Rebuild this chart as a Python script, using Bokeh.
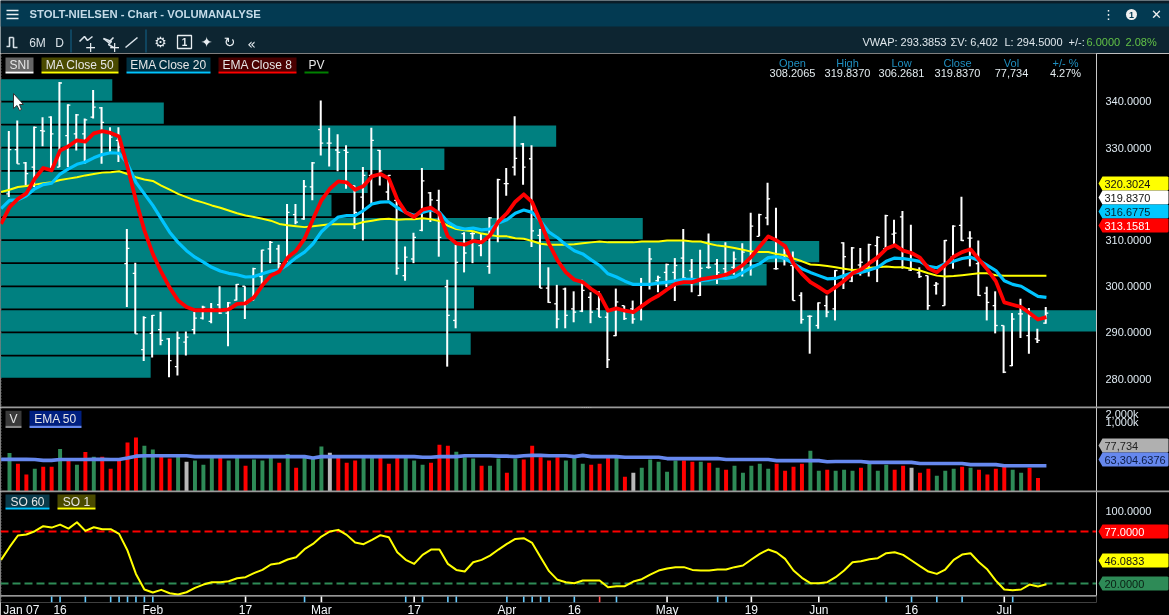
from bokeh.plotting import figure
from bokeh.layouts import column
from bokeh.models import Range1d, FixedTicker, NumeralTickFormatter, LinearAxis
from bokeh.core.properties import value
from bokeh.embed import file_html
from bokeh.resources import INLINE

# ---------------- data ----------------
opens = [320,329.6,326.7,325.8,333.7,336.6,325.8,332.6,333,333,336.6,338.6,333.4,331.6,
 304.9,302.8,286.3,289.8,290.6,288.6,282.6,287.9,290.6,293.1,292.4,296,294.2,297,300,297,302.1,308.1,308.1,305.4,315.5,314.6,
 321.5,333.9,331,329.5,329.4,321.8,319.3,324,329.4,320.4,318.6,302.3,305.9,312.1,320.2,318.6,
 299.9,292.6,311.4,311.4,308.8,304.3,313.5,322.2,325.8,330.8,327.6,311,299.6,296.2,299.4,295.1,294.6,297.6,295.1,293.3,289.3,295.8,295.1,295.5,300.5,301.2,303,303,306.1,303.4,298,304.1,304.8,
 303.8,304.1,304.5,303.8,310.8,314.8,303.8,306,304.5,298,293.5,291.5,295.8,295.1,309.4,301.1,304.6,303.4,308.8,308.1,311.3,315,303.5,302.9,302.3,300.2,295.8,306.3,313.2,310.4,304.9,298.5,295.8,291.5,282.8,294,289.3,288.6,292]
highs = [333.6,335.9,326.9,334.6,336.6,336.8,344.2,339.4,337.3,336.3,342.5,338.8,334.4,334.4,
 312.4,305.1,293.5,293.8,294.5,288.8,290.2,290.2,294.4,295.8,296.4,300,296.6,300.5,300,304,307.9,309.8,309,317.8,317.8,323,
 326.9,340.2,334.3,332.9,330.5,321.8,325.8,334.3,329.5,324,318.6,308.6,311.6,325.6,320.4,320.9,
 301.4,309,311.7,311.7,311.4,315,323.3,325.6,336.8,331,330.5,312.4,304.1,300.3,299.7,298.9,301.4,298.7,298.9,294.4,299.5,295.8,296.9,301.8,308.3,302.3,304.9,306.1,312.4,305.9,307.9,311.4,305.9,
 309.5,307.5,309.3,315.9,315.7,322.4,317,308.1,307.5,298.7,293.7,296.5,298,303.5,309.5,308.5,308.3,309.2,310.8,315.5,314.4,316.3,313.3,304.1,302.3,300.9,310,313.2,319.4,311.9,309.9,299.9,298.9,291.5,294.2,297.3,295.3,290.8,295.5]
lows = [319.3,326.5,321.8,321.5,330.3,325.4,325.8,325.8,329.4,326.5,336.3,326.5,329,326.9,
 295.5,289.7,283.8,284.6,287.2,280.3,280.7,285,289.6,292.8,292,294,287,296.9,292.9,296.9,300.5,305,303.8,305.2,313.4,314.4,
 318.6,328.3,325.9,324.9,321.1,312.4,309.9,317.8,321.8,318.6,302.5,301.2,305,311.9,313.9,306.4,
 282.6,290.9,303,305,306.5,302.7,309.5,319.6,324,322,308.5,299.6,296.4,290.9,290.9,292.2,294.4,292,293.3,282.3,289.2,292.7,291.9,292.6,299.3,298.7,299.8,296.8,301.6,298.7,297.9,303.8,300.5,
 302.1,302.5,302.1,302.3,310.8,313.2,303.6,304.5,296.9,291.9,285.4,290.8,293.3,292.6,299.4,300.9,302.3,302.1,300.9,307.9,308.5,303.8,303.3,301.8,294.9,298.2,295.8,303.8,309.8,304.3,297.9,292.6,289.8,281.2,282.7,288.8,285.4,287.7,291.9]
closes = [329.6,326.5,324.4,334.4,333.6,333,344,339.2,337.1,336,338.8,335.5,332.3,330.1,
 308.2,289.7,293.2,293.7,288.3,283.9,288.8,289,293.1,295.5,295.1,294.2,296.4,300.4,296.2,303.8,307.8,309.5,304.9,316,313.9,321.6,
 326.7,331,331,329,329,316,324,331.6,325,324,303.9,306.3,310.6,322.8,318.7,310.6,
 293.7,305.2,307.2,311.4,309.9,314.8,323.1,322.2,327.7,325.8,312,299.6,296.5,292.9,293.7,294.4,299.1,294.4,293.3,284.1,296.6,293,292.9,300.5,305.9,301.9,304.7,304.5,301.8,301.2,303.9,304.1,303,
 303,305.9,307.4,313,315.5,318.9,303.8,306,296.9,292.8,293.5,296.4,294.4,303.4,306.4,308.3,305.2,309,310.6,315.3,311.5,304.1,305.6,302.1,295.8,300.5,309.9,313,309.9,310.4,298,296.5,291.5,281.4,292.9,294,293.6,288.3,294.2]

# averages start one bar before the first visible bar
ema8 = [313.5,317.1,318.9,320.1,323.3,325.6,325.1,329.4,330.3,331.6,331.3,333.1,333.6,333.2,332.4,325.8,318.6,
 312.1,307,303.1,299.7,296.9,295.5,294.8,294.8,294.8,294.8,295,296.2,296.3,297.6,300.2,302.3,303.2,306.2,307.7,310.3,314.5,318.6,321.1,322.7,322.5,320.9,321.7,323.8,324.3,323.3,318.8,
 316,315,316.6,317,315.7,310.8,309.3,309,309.8,309.5,311,314,315.8,318.3,319.9,318.2,313.9,309.2,305.6,303,301.4,300.9,299.4,298.2,294.7,295.2,294.7,294.4,295.7,297,298,299.3,300.5,300.9,300.9,301.5,301.8,302.1,
 302.5,303.4,304.6,306.4,308.6,310.8,309.9,308.7,304.9,302.7,300.9,299.8,298.6,299.8,301.2,302.8,303.6,305,306.3,308.1,308.9,307.7,307.2,306.2,303.9,303,304.6,306.4,307.4,308,305.8,303.6,301.1,296.5,296,295.5,294.2,292.8,293.3]
ema20 = [316.8,318.6,318.7,319.6,321.1,322,322.3,324.3,325.4,326.4,326.9,327.8,328.5,328.9,328.8,326.5,322.5,320,
 317.5,314.6,311.7,309.5,307.7,306.3,305.2,304.1,303.3,302.8,302.5,302,302.1,302.7,303.3,303.5,304.7,306.2,307.4,309.2,311.8,313.5,315,315.3,315.3,316.4,317.8,318.2,318.3,317,
 316,315.3,316,316.5,316,313.9,312.8,312.4,312.6,312.2,312.4,313.7,314.4,315.8,316.5,316,314.1,311.7,310.5,309,307.7,307,305.7,304.5,302.7,302,301.1,300.4,300.4,300.4,300.7,300.9,301.2,301.5,301.5,301.2,301.4,301.8,
 301.7,302,303,304.1,304.9,306.2,306.4,306,304.9,303.8,303,302.3,301.6,301.7,302.3,302.9,303,303.5,304.1,305.4,306.1,306,305.7,305.4,304.3,304,304.9,305.4,306,306.3,305.6,304.5,303.4,301.2,300.4,300,298.9,297.8,297.6]
ma50 = [320.4,320.9,321.5,321.7,322,322.3,322.5,323,323.3,323.6,324,324.3,324.6,324.7,324.9,324.3,323.6,323.1,322.8,321.8,320.9,320,319.3,
 318.6,318.1,317.5,317,316.4,315.8,315.3,315,314.6,314.2,313.5,313.2,313,312.8,313,313.2,313.4,313.4,313.4,313.4,313.9,314.2,314.5,314.6,314.4,
 314.5,314.5,314.7,314.5,314.1,313.1,312.4,312.1,311.9,311.4,311.1,310.8,310.8,310.4,310.3,309.8,309.2,309,309,309,309.1,309.3,309.5,309.7,309.5,309.5,309.5,309.5,309.7,309.7,309.7,309.9,309.9,309.9,309.7,309.7,309.2,308.8,
 308.6,308.3,307.9,307.5,307.4,307.4,307,306.7,306,305.4,304.7,304.6,304.4,304.1,303.8,303.5,303.6,304,304.1,304.3,304.1,304.1,303.8,303.4,302.8,302.3,302.1,302.2,302.4,302.6,302.8,302.8,302.4,302.3,302.3,302.3,302.3,302.3,302.3]

volume_k = [113,53,25,37.5,43.3,43.3,149,66,49.5,120,87,87,37.5,66,232,327,187,142,87,76,87,61,66,49.5,87,83,66,83,46.4,71,66,83,57,105,40,83,79,175,115,83,57,66,83,83,83,53,83,
 83,66,49.5,57,200,187,122,83,76,46.4,46.4,76,28.5,76,71,187,83,66,83,66,83,53,49.5,53,83,79,21.5,28.5,40,71,61,30.5,66,66,61,61,57,40,35,46.4,28.5,46.4,53,37.5,
 53,32.8,43.3,53,132,32.8,35,32.8,35,32.8,40,53,32.8,49.5,35,46.4,40,28.5,37.5,23.2,32.8,37.5,43.3,40,35,25,37.5,43.3,35,28.5,40,19.7,8]
volume_dir = list("grrgrrgrgr" "grrrrrggrr" "gagggrggrg" "ggrgrgggar" "rrggrrrggg" "rrrgggrggr" "grrrrrgggr"
                  "rrgraggggg" "rrgrgrgggg" "grrrrggrgg" "grgggrrarr" "gggrgrrrrg" "grrg")
volume_ema_k = [72,72,72,72,71,67,67,71,71,71,71,72,72,71,71,79,90,93,93,93,93,93,93,87,87,87,87,87,87,87,87,87,87,87,87,87,87,79,87,87,87,87,87,87,87,87,87,87,87,
 87,83,83,87,87,87,93,93,93,93,90,90,87,93,95,95,93,93,93,87,95,87,87,87,87,83,83,83,83,83,76,76,76,76,76,76,76,
 71,71,71,71,71,71,66,66,66,66,66,66,61,62,62,62,62,58.5,58.5,58.5,58.5,58.5,58.5,54,54,54,54,54,54,50,50,50,50,46.4,46.4,46.4,46.4,46.4,46.4]

so1 = [45.9,59.8,72.6,73.7,77.3,82.8,81.3,84.6,80.2,87.2,77.7,81.7,79.5,79.5,74.4,56.1,30.5,13.4,10.1,13,9.3,7.9,10.4,15.2,18.8,21.4,21.4,22.5,25.8,26.9,31.3,34.9,40.8,42.2,46.3,48.8,57.6,63.4,71.5,77,78.8,73.3,64.9,63.1,67.8,72.9,70.7,54.3,
 45.9,41.5,51.4,57.2,57.2,41.5,34.9,33.1,43.3,45.9,50.6,57.2,63.4,68.9,69.6,64.5,48.8,33.5,24,21.4,20.3,23.2,23.2,23.2,15.9,17,17,22.1,24.7,29.8,34.2,36.4,37.9,37.9,34.9,34.2,34.2,35.3,35.3,37.9,39.7,46.3,52.5,57.2,54,
 47,34.2,26.2,20.3,20.3,21.4,26.9,34.2,43.3,44.4,46.6,47.7,53.2,54.3,51.4,45.2,39,33.1,30.5,35.3,45.9,51.7,53.2,43.3,35.3,23.2,13.4,12.6,13.4,18.8,16.7,19.2]

profile_tops = [344.8,339.8,334.8,329.8,324.8,319.8,314.8,309.8,304.8,299.8,294.8,289.8,284.8]
profile_share = [10.2,14.9,50.7,40.5,33.5,30.2,58.6,74.7,69.9,43.2,100,42.9,13.7]

price_ticks = [280,290,300,310,330,340]
date_ticks = [1.4,6,17,28,37,48,59,67,78,88,96,107,118]
date_labels = ["Jan 07","16","Feb","17","Mar","17","Apr","16","May","19","Jun","16","Jul"]
white_marks = [28,37,48,78,88,96,118]
blue_marks = [5,6,9,12,13,14,15,16,17,35,47,49,52,53,59,61,62,63,64,67,72,84,85,104,107,110,113,119]
red_marks = [70]

bars = list(range(len(highs)))
line_x = list(range(-1, len(highs)))
assert len(opens) == len(highs) == len(lows) == len(closes) == 124
assert len(ema8) == len(ema20) == len(ma50) == len(so1) == 125
assert len(volume_k) == 124 and len(volume_ema_k) == 125
assert len(volume_dir) == 124

# ---------------- page geometry ----------------
W, H, FW = 1169, 615, 1096
X_RANGE = (-1.0676, 128.94)
SANS = "Liberation Sans"
CHIP_TEXT = "#e6e6e6"


def pane(top, bottom_px, height, y_range, **kw):
    p = figure(width=W, height=height, frame_width=FW, frame_height=bottom_px - top, frame_align=False,
               x_range=Range1d(*X_RANGE), y_range=y_range, x_axis_location=None,
               y_axis_location="right", toolbar_location=None, output_backend="svg",
               background_fill_color="black", border_fill_color="black",
               min_border_left=0, min_border_right=W - FW, min_border_top=0, min_border_bottom=height - (bottom_px - top),
               outline_line_color=None, **kw)
    p.grid.visible = False
    p.extra_x_ranges["px"] = Range1d(0, FW)
    p.extra_y_ranges["px"] = Range1d(bottom_px, top)
    ax = p.yaxis[0]
    ax.major_tick_line_color = None
    ax.minor_tick_line_color = None
    ax.major_tick_out = 0
    ax.major_tick_in = 0
    ax.axis_line_color = "#c8c8c8"
    ax.major_label_text_color = "#dfeaf2"
    ax.major_label_text_font = SANS
    ax.major_label_text_font_size = "11px"
    ax.major_label_standoff = 9
    # dotted left edge
    p.segment([0.6], [top], [0.6], [bottom_px], line_color="#888888", line_width=1, line_dash="1 2",
              x_range_name="px", y_range_name="px")
    return p


def chip(p, x0, x1, y0, y1, bg, under, text):
    if bg:
        p.quad(left=[x0], right=[x1], top=[y0], bottom=[y1], fill_color=bg, line_color=None,
               x_range_name="px", y_range_name="px")
    p.quad(left=[x0], right=[x1], top=[y1], bottom=[y1 + 2], fill_color=under, line_color=None,
           x_range_name="px", y_range_name="px")
    p.text(x=[(x0 + x1) / 2], y=[(y0 + y1) / 2 + 0.5], text=[text], text_color=CHIP_TEXT, text_font=value(SANS),
           text_font_size="12px", text_align="center", text_baseline="middle",
           x_range_name="px", y_range_name="px")


# ---------------- header ----------------
hdr = figure(width=W, height=53, frame_align=False, x_range=Range1d(0, W), y_range=Range1d(53, 0), x_axis_location=None, y_axis_location=None,
             toolbar_location=None, output_backend="svg", background_fill_color="#0d2531", border_fill_color="#0d2531",
             min_border=0, outline_line_color=None)
hdr.grid.visible = False
hdr.quad(left=[0], right=[W], top=[0], bottom=[3], fill_color="#0a1c28", line_color=None)
hdr.quad(left=[0], right=[W], top=[3], bottom=[26], fill_color="#033a52", line_color=None)
# hamburger
hdr.segment([6, 6, 6], [10, 14, 18], [18, 18, 18], [10, 14, 18], line_color="#e8eef2", line_width=1.6)
hdr.text(x=[29], y=[13.5], text=["STOLT-NIELSEN - Chart - VOLUMANALYSE"], text_color="#c5dbe8", text_font=value(SANS),
         text_font_style="bold", text_font_size="11.3px", text_baseline="middle")
# window buttons
hdr.text(x=[1108, 1156], y=[14, 14], text=["\u22ee", "\u2715"], text_color="#f0f0f0", text_font=value("DejaVu Sans"),
         text_font_size="13px", text_align="center", text_baseline="middle")
hdr.circle(x=[1131], y=[14], radius=5.5, fill_color="#f0f0f0", line_color=None)
hdr.text(x=[1131], y=[14], text=["1"], text_color="#033a52", text_font=value(SANS), text_font_style="bold",
         text_font_size="9px", text_align="center", text_baseline="middle")
# toolbar
hdr.segment([70.5, 145.5], [29, 29], [70.5, 145.5], [52, 52], line_color="#10506f", line_width=1.5)
hdr.multi_line([[6, 9, 9, 13], [13, 13, 17], [79, 84, 87, 92], [103, 108, 113], [103, 111, 108, 113], [125, 137]],
               [[46, 46, 37, 37], [37, 47, 47], [41, 36, 40, 36], [38, 42, 37], [38, 41, 44, 47], [47, 37]],
               line_color="#d9e2e8", line_width=1.6)
hdr.text(x=[37, 59], y=[42, 42], text=["6M", "D"], text_color="#d9e2e8", text_font=value(SANS), text_font_size="12px",
         text_align="center", text_baseline="middle")
hdr.text(x=[90, 114, 160, 206, 229, 251], y=[46, 46, 41.5, 41.5, 41.5, 43],
         text=["+", "+", "\u2699", "\u2726", "\u21bb", "\u00ab"], text_color="#e8eef2", text_font=value("DejaVu Sans"),
         text_font_size="14px", text_align="center", text_baseline="middle")
hdr.quad(left=[177], right=[191], top=[35], bottom=[48], fill_color=None, line_color="#e8eef2", line_width=1.3)
hdr.text(x=[184], y=[41.5], text=["1"], text_color="#e8eef2", text_font=value(SANS), text_font_style="bold",
         text_font_size="10px", text_align="center", text_baseline="middle")
hdr.text(x=[862, 950, 1004, 1068], y=[41] * 4, text=["VWAP: 293.3853", "\u03a3V: 6,402", "L: 294.5000", "+/-:"],
         text_color="#dfe7ec", text_font=value(SANS), text_font_size="11px", text_baseline="middle")
hdr.text(x=[1086, 1125], y=[41] * 2, text=["6.0000", "2.08%"], text_color="#62c246", text_font=value(SANS),
         text_font_size="11px", text_baseline="middle")

# ---------------- price pane ----------------
price = pane(53, 407, 354, Range1d(273.75, 350.39))
ax = price.yaxis[0]
ax.ticker = FixedTicker(ticks=price_ticks)
ax.formatter = NumeralTickFormatter(format="0.0000")

price.extra_x_ranges["profile"] = Range1d(0, 100)
price.quad(left=0, right=profile_share, top=profile_tops, bottom=[t - 4.62 for t in profile_tops],
           fill_color="#008080", line_color=None, x_range_name="profile")

bx = [i - 0.08 for i in bars]
price.segment(bx, lows, bx, highs, line_color="white", line_width=2)
price.segment([x - 0.3 for x in bx], opens, bx, opens, line_color="white", line_width=1.3)
price.segment(bx, closes, [x + 0.3 for x in bx], closes, line_color="white", line_width=1.3)
price.line(line_x, ma50, line_color="#ffff00", line_width=2, line_join="round")
price.line(line_x, ema20, line_color="#00c4ff", line_width=3.2, line_join="round")
price.line(line_x, ema8, line_color="#ff0000", line_width=3.8, line_join="round")

chip(price, 5, 33, 57, 71, "#666666", "#ffffff", "SNI")
chip(price, 41, 118, 57, 71, "#4a4a00", "#ffff00", "MA Close 50")
chip(price, 126, 210, 57, 71, "#002f40", "#00c4ff", "EMA Close 20")
chip(price, 218, 296, 57, 71, "#4a0000", "#ff0000", "EMA Close 8")
chip(price, 304, 328, 57, 71, None, "#008000", "PV")

cols = [792, 847, 901, 957, 1011, 1065]
price.text(x=cols, y=[62] * 6, text=["Open", "High", "Low", "Close", "Vol", "+/- %"], text_color="#1f8fc0",
           text_font=value(SANS), text_font_size="11px", text_align="center", text_baseline="middle",
           x_range_name="px", y_range_name="px")
price.text(x=cols, y=[72] * 6, text=["308.2065", "319.8370", "306.2681", "319.8370", "77,734", "4.27%"],
           text_color="#e4ecf0", text_font=value(SANS), text_font_size="11px", text_align="center",
           text_baseline="middle", x_range_name="px", y_range_name="px")
# mouse pointer
price.patch([13, 13, 16.5, 19, 21, 19, 23], [93, 108, 105, 110, 109, 104, 104], fill_color="white", line_color="#333333",
            line_width=1, x_range_name="px", y_range_name="px")

# ---------------- volume pane ----------------
vol = pane(407, 491, 84, Range1d(7.7, 2654), y_axis_type="log")
ax = vol.yaxis[0]
ax.ticker = FixedTicker(ticks=[1000, 2000])
ax.major_label_overrides = {1000: "1,000k", 2000: "2,000k"}
vol_colors = {"g": "#2e8b57", "r": "#ff0000", "a": "#b8b8b8"}
vol.vbar(x=bars, top=volume_k, bottom=7.7, width=0.47, fill_color=[vol_colors[c] for c in volume_dir], line_color=None)
vol.line(line_x, volume_ema_k, line_color="#6688ee", line_width=3.6, line_join="round")
chip(vol, 5, 21, 410, 424, "#3a3a3a", "#888888", "V")
chip(vol, 29, 81, 410, 424, "#001f80", "#6688ee", "EMA 50")

# ---------------- stochastic pane ----------------
so_bottom = 602
so = pane(491, so_bottom, 124, Range1d(77 - (so_bottom - 531) / 0.912, 77 + 40 / 0.912))
ax = so.yaxis[0]
ax.ticker = FixedTicker(ticks=[100])
ax.formatter = NumeralTickFormatter(format="0.0000")
ax.bounds = (77 - 64 / 0.912, 77 + 40 / 0.912)
xa = LinearAxis(ticker=FixedTicker(ticks=date_ticks), major_label_overrides=dict(zip(date_ticks, date_labels)),
                axis_line_color=None, major_tick_line_color=None, minor_tick_line_color=None, major_tick_out=0, major_tick_in=0,
                major_label_text_color="#f2f6fa", major_label_text_font=SANS, major_label_text_font_size="12px",
                major_label_standoff=0)
so.add_layout(xa, "below")
so.segment([0], [77], [FW], [77], line_color="#ff0000", line_width=2, line_dash="8 4", x_range_name="px")
so.segment([0], [20], [FW], [20], line_color="#2e8b57", line_width=2, line_dash="8 4", x_range_name="px")
so.line(line_x, so1, line_color="#ffff00", line_width=2, line_join="round")
so.segment([0], [595.3], [FW], [595.3], line_color="#c8c8c8", line_width=1.2, x_range_name="px", y_range_name="px")
for marks, col in ((white_marks, "#ffffff"), (blue_marks, "#66ccff"), (red_marks, "#ff5050")):
    so.segment(marks, [596] * len(marks), marks, [602] * len(marks), line_color=col, line_width=1.6, y_range_name="px")
chip(so, 5, 49, 494, 507, "#0a3a4a", "#00c4ff", "SO 60")
chip(so, 57, 95, 494, 507, "#4a4a00", "#ffff00", "SO 1")

# ---------------- transparent sheet for the page-wide rules and right-hand value tags ----------------
sheet = figure(width=W, height=H, frame_align=False, x_range=Range1d(0, W), y_range=Range1d(H, 0), x_axis_location=None, y_axis_location=None,
               toolbar_location=None, output_backend="svg", background_fill_alpha=0, border_fill_alpha=0,
               min_border=0, outline_line_color=None, styles={"position": "fixed", "left": "0px", "top": "0px", "pointer-events": "none"})
sheet.grid.visible = False
sheet.quad(left=0, right=W, top=[406, 490], bottom=[407.7, 491.7], fill_color="#9a9a9a", line_color=None)
sheet.text(x=[586], y=[405], text=["....."], text_color="#bbbbbb", text_font=value(SANS), text_font_size="8px",
           text_align="center", text_baseline="middle")

tag_y = [183, 197, 211, 225, 445, 459, 531, 560, 583]
tag_text = ["320.3024", "319.8370", "316.6775", "313.1581", "77,734", "63,304.6376", "77.0000", "46.0833", "20.0000"]
tag_fill = ["#ffff00", "#ffffff", "#00c8ff", "#ff0000", "#b0b0b0", "#6688ee", "#ff0000", "#ffff00", "#2e8b57"]
tag_ink = ["#111111", "#111111", "#06222e", "#ffffff", "#222222", "#0c1c44", "#ffffff", "#111111", "#0a2014"]
L, S, R, HH = 1098, 1102, 1168, 7
sheet.patches([[L, S, R - 1, R, R, R - 1, S] for _ in tag_y],
              [[y, y - HH, y - HH, y - HH + 1, y + HH - 1, y + HH, y + HH] for y in tag_y],
              fill_color=tag_fill, line_color=None)
sheet.text(x=[1104] * len(tag_y), y=tag_y, text=tag_text, text_color=tag_ink, text_font=value(SANS),
           text_font_size="11px", text_baseline="middle")

page = column(column(hdr, price, vol, so, spacing=0), sheet, spacing=0,
              styles={"position": "fixed", "left": "0px", "top": "0px"})
open("out.html", "w").write(file_html(page, INLINE))
